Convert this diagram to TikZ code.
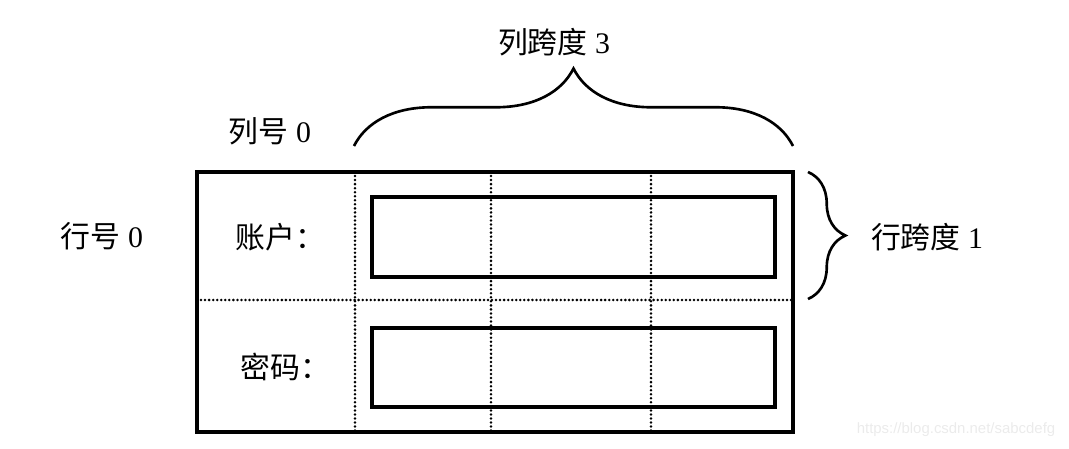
\documentclass[tikz,border=0pt]{standalone}
\usepackage{fontspec}
\setmainfont{Liberation Serif}
\setsansfont{Liberation Sans}
\newfontfamily\cjk{Noto Sans CJK SC}
\usetikzlibrary{positioning}
\usetikzlibrary{decorations.pathreplacing}

\tikzset{
  frame/.style={line width=1.9pt},
  gridline/.style={line width=1.6pt, line cap=round, dash pattern=on 0pt off 2.3pt},
  span/.style={decorate, decoration={brace, amplitude=#1}, line width=1.5pt},
  span/.default=0.75cm,
  lbl/.style={font=\fontsize{17}{20}\selectfont, inner sep=0pt},
}

\begin{document}
\begin{tikzpicture}[x=0.02cm, y=-0.02cm]
    \useasboundingbox (0, 0) rectangle (1069, 449);

    % form and its grid
    \draw [frame] (197, 172) rectangle (793, 432);
    \draw [gridline] (197, 300) -- (793, 300);
    \foreach \x in {355, 491, 651}
      \draw [gridline] (\x, 172) -- (\x, 432);

    \draw [frame] (372, 197) rectangle (775, 277);
    \draw [frame] (372, 328) rectangle (775, 407);

    \node [lbl, anchor=west] (account) at (235, 237) {\cjk 账户：};
    \node [lbl, anchor=west] (password) at (240, 367) {\cjk 密码：};

    % spans
    \coordinate (colstart) at (354, 146);
    \coordinate (colend) at (793, 146);
    \coordinate (rowstart) at (808, 172);
    \coordinate (rowend) at (808, 299);
    \draw [span=1.55cm] (colstart) -- (colend);
    \draw [span=0.75cm] (rowstart) -- (rowend);

    \node [lbl] (colspan) at (554, 42) {{\cjk 列跨度} 3};
    \node [lbl] (rowspan) at (927, 237) {{\cjk 行跨度} 1};
    \node [lbl] (colno) at (270, 131) {{\cjk 列号} 0};
    \node [lbl] (rowno) at (102, 236) {{\cjk 行号} 0};

    \node [font=\sffamily\fontsize{8.5}{10}\selectfont, text=black!8] (mark) at (956, 430) {https://blog.csdn.net/sabcdefg};
\end{tikzpicture}
\end{document}
